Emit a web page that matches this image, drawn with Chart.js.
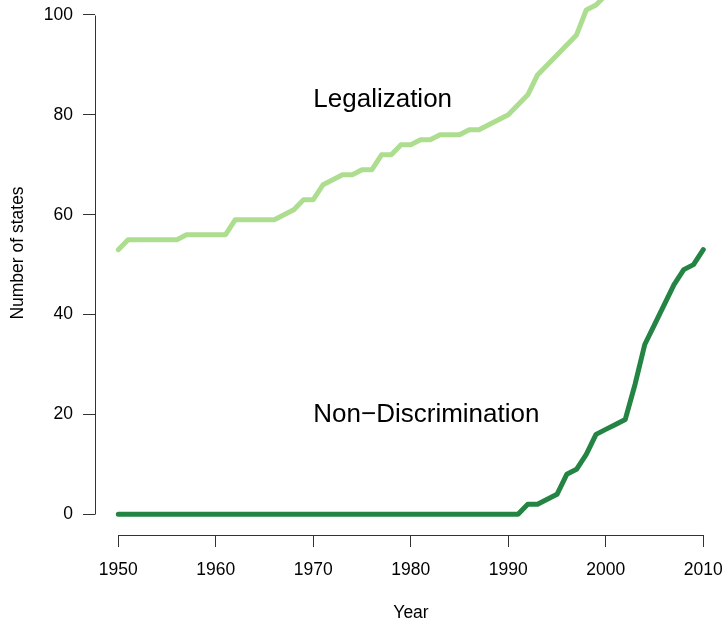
<!DOCTYPE html>
<html>
<head>
<meta charset="utf-8">
<title>Number of states by year</title>
<script src="https://cdn.jsdelivr.net/npm/chart.js@4/dist/chart.umd.min.js"></script>
<style>
  html, body { margin: 0; padding: 0; background: #fff; }
  #wrap { width: 725px; height: 622px; }
</style>
</head>
<body>
<div id="wrap"><canvas id="c" width="725" height="622"></canvas></div>
<script>
// Years covered by each series
const legalYears = [1950, 1951, 1952, 1953, 1954, 1955, 1956, 1957, 1958, 1959,
  1960, 1961, 1962, 1963, 1964, 1965, 1966, 1967, 1968, 1969,
  1970, 1971, 1972, 1973, 1974, 1975, 1976, 1977, 1978, 1979,
  1980, 1981, 1982, 1983, 1984, 1985, 1986, 1987, 1988, 1989,
  1990, 1991, 1992, 1993, 1994, 1995, 1996, 1997, 1998, 1999, 2000];
const legalization = [53, 55, 55, 55, 55, 55, 55, 56, 56, 56,
  56, 56, 59, 59, 59, 59, 59, 60, 61, 63,
  63, 66, 67, 68, 68, 69, 69, 72, 72, 74,
  74, 75, 75, 76, 76, 76, 77, 77, 78, 79,
  80, 82, 84, 88, 90, 92, 94, 96, 101, 102, 104];

const nondiscYears = [1950, 1951, 1952, 1953, 1954, 1955, 1956, 1957, 1958, 1959,
  1960, 1961, 1962, 1963, 1964, 1965, 1966, 1967, 1968, 1969,
  1970, 1971, 1972, 1973, 1974, 1975, 1976, 1977, 1978, 1979,
  1980, 1981, 1982, 1983, 1984, 1985, 1986, 1987, 1988, 1989,
  1990, 1991, 1992, 1993, 1994, 1995, 1996, 1997, 1998, 1999,
  2000, 2001, 2002, 2003, 2004, 2005, 2006, 2007, 2008, 2009, 2010];
const nonDiscrimination = [0, 0, 0, 0, 0, 0, 0, 0, 0, 0,
  0, 0, 0, 0, 0, 0, 0, 0, 0, 0,
  0, 0, 0, 0, 0, 0, 0, 0, 0, 0,
  0, 0, 0, 0, 0, 0, 0, 0, 0, 0,
  0, 0, 2, 2, 3, 4, 8, 9, 12, 16,
  17, 18, 19, 26, 34, 38, 42, 46, 49, 50, 53];

// Axis ticks
const xTicks = [1950, 1960, 1970, 1980, 1990, 2000, 2010];
const yTicks = [0, 20, 40, 60, 80, 100];

// Series labels placed in the plot
const seriesLabels = [
  { text: 'Legalization', x: 1970, y: 83 },
  { text: 'Non\u2212Discrimination', x: 1970, y: 20 }
];

const FONT = '"Liberation Sans", Arial, Helvetica, sans-serif';
const AXIS_COLOR = '#333';

function toPoints(xs, ys) {
  return xs.map((x, i) => ({ x: x, y: ys[i] }));
}

// Axis lines span only the first to last tick; titles and in-plot labels
const decorations = {
  id: 'decorations',
  afterDraw(chart) {
    const ctx = chart.ctx;
    const xs = chart.scales.x, ys = chart.scales.y;
    const area = chart.chartArea;
    ctx.save();
    ctx.strokeStyle = AXIS_COLOR;
    ctx.lineWidth = 1;
    ctx.beginPath();
    const ax = Math.round(area.left) + 0.5;
    ctx.moveTo(ax, Math.round(ys.getPixelForValue(yTicks[0])) + 0.5);
    ctx.lineTo(ax, Math.round(ys.getPixelForValue(yTicks[yTicks.length - 1])) + 0.5);
    const ay = Math.round(area.bottom) + 0.5;
    ctx.moveTo(Math.round(xs.getPixelForValue(xTicks[0])) + 0.5, ay);
    ctx.lineTo(Math.round(xs.getPixelForValue(xTicks[xTicks.length - 1])) + 0.5, ay);
    ctx.stroke();

    ctx.fillStyle = '#000';
    ctx.font = '17.5px ' + FONT;
    ctx.textAlign = 'center';
    ctx.textBaseline = 'middle';
    ctx.fillText('Year', 411, 613);
    ctx.save();
    ctx.translate(18, 253);
    ctx.rotate(-Math.PI / 2);
    ctx.fillText('Number of states', 0, 0);
    ctx.restore();

    ctx.font = '26px ' + FONT;
    ctx.textAlign = 'left';
    seriesLabels.forEach(l => {
      ctx.fillText(l.text, xs.getPixelForValue(l.x), ys.getPixelForValue(l.y));
    });
    ctx.restore();
  }
};

const tickFont = { family: FONT, size: 17.5 };

new Chart(document.getElementById('c'), {
  type: 'line',
  data: {
    datasets: [
      {
        label: 'Legalization',
        data: toPoints(legalYears, legalization),
        borderColor: '#addd8e',
        borderWidth: 5,
        borderCapStyle: 'round',
        borderJoinStyle: 'round',
        pointRadius: 0,
        tension: 0,
        fill: false
      },
      {
        label: 'Non-Discrimination',
        data: toPoints(nondiscYears, nonDiscrimination),
        borderColor: '#238443',
        borderWidth: 5,
        borderCapStyle: 'round',
        borderJoinStyle: 'round',
        pointRadius: 0,
        tension: 0,
        fill: false
      }
    ]
  },
  options: {
    responsive: false,
    animation: false,
    devicePixelRatio: 1,
    layout: { padding: 0 },
    plugins: { legend: { display: false }, tooltip: { enabled: false } },
    scales: {
      x: {
        type: 'linear',
        min: 1947.61,
        max: 2012.23,
        afterBuildTicks: s => { s.ticks = xTicks.map(v => ({ value: v })); },
        afterFit: s => { s.height = 87; s.paddingLeft = 0; s.paddingRight = 0; },
        ticks: {
          font: tickFont, color: '#000', padding: 13,
          maxRotation: 0, autoSkip: false,
          callback: v => String(v)
        },
        grid: {
          display: true, drawOnChartArea: false, drawTicks: true,
          tickLength: 12, color: AXIS_COLOR, lineWidth: 1
        },
        border: { display: false }
      },
      y: {
        type: 'linear',
        min: -4.15,
        max: 103.0,
        afterBuildTicks: s => { s.ticks = yTicks.map(v => ({ value: v })); },
        afterFit: s => { s.width = 95; s.paddingTop = 0; s.paddingBottom = 0; },
        ticks: {
          font: tickFont, color: '#000', padding: 10,
          autoSkip: false,
          callback: v => String(v)
        },
        grid: {
          display: true, drawOnChartArea: false, drawTicks: true,
          tickLength: 12, color: AXIS_COLOR, lineWidth: 1
        },
        border: { display: false }
      }
    }
  },
  plugins: [decorations]
});
</script>
</body>
</html>
